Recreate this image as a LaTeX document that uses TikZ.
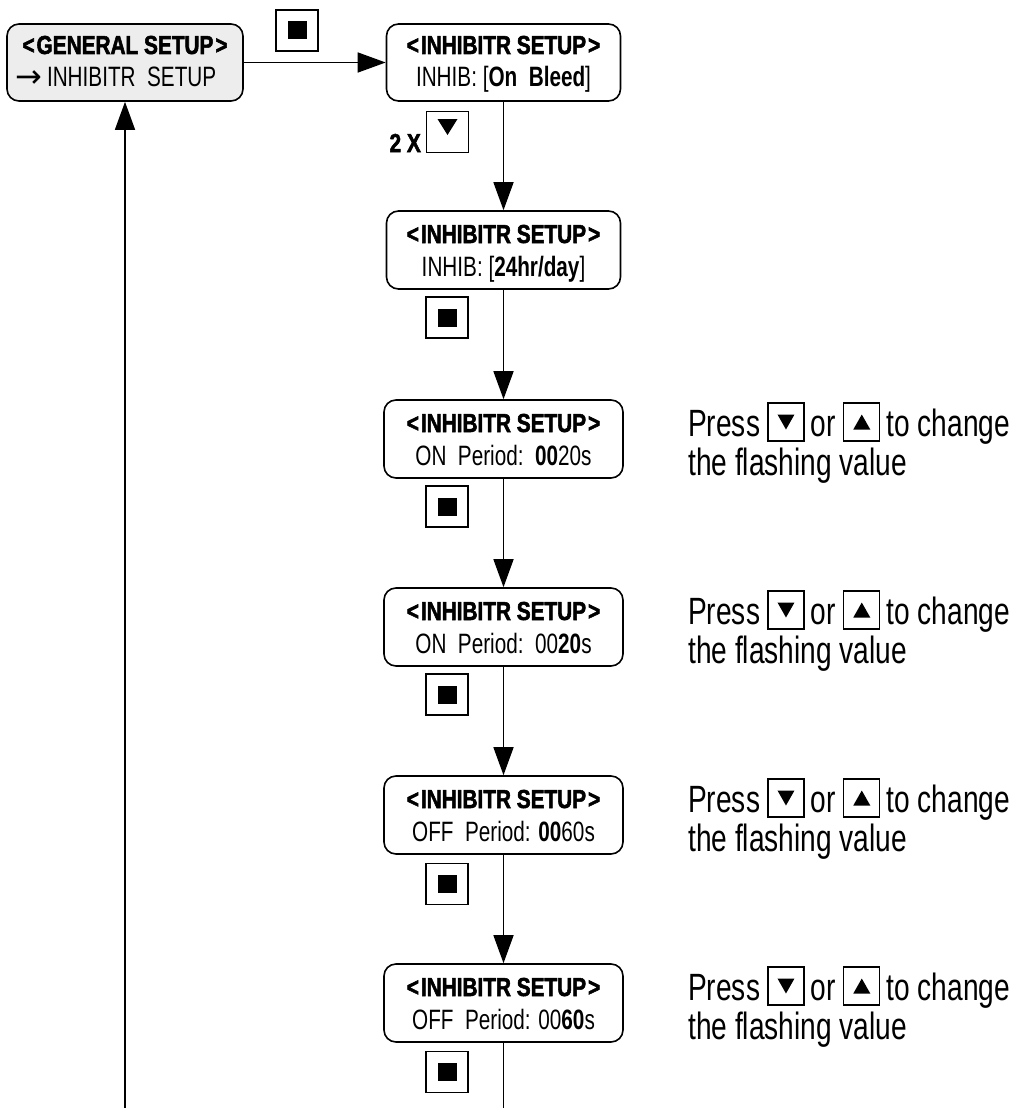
\documentclass[tikz,border=0pt]{standalone}
\usepackage{fontspec}
\setmainfont{Liberation Sans}[FakeStretch=0.74]
\newfontfamily\ttlfont{Liberation Sans Bold}[FakeStretch=0.8, FakeBold=2]
\newfontfamily\dv{DejaVu Sans}
\usetikzlibrary{arrows.meta,calc}

\tikzset{
  lcd/.style={draw, line width=1.6pt, rounded corners=12pt, minimum height=78pt, inner sep=0pt},
  ttl/.style={inner sep=0pt, font=\ttlfont\fontsize{26}{26}\selectfont},
  sub/.style={inner sep=0pt, font=\fontsize{28}{28}\selectfont},
  rt/.style={inner sep=0pt, font=\fontsize{38}{38}\selectfont},
  conn/.style={line width=1.5pt},
  arr/.style={conn, -{Triangle[length=28pt,width=20pt]}},
  keyb/.style={draw, line width=1.5pt, minimum width=42pt, minimum height=41pt, inner sep=0pt},
  stopkey/.style={keyb, path picture={\fill ([xshift=-9.5pt,yshift=-9pt]path picture bounding box.center) rectangle ++(19pt,18pt);}},
  dnkey/.style={keyb, path picture={\fill ([shift={(-10pt,13pt)}]path picture bounding box.center) -- ++(20pt,0pt) -- ++(-10pt,-16pt) -- cycle;}},
  skey/.style={draw, line width=1.4pt, minimum width=36pt, minimum height=38pt, inner sep=0pt},
  sdnkey/.style={skey, path picture={\fill ([shift={(-8.5pt,7.5pt)}]path picture bounding box.center) -- ++(17pt,0pt) -- ++(-8.5pt,-15pt) -- cycle;}},
  supkey/.style={skey, path picture={\fill ([shift={(-8.5pt,-7.5pt)}]path picture bounding box.center) -- ++(17pt,0pt) -- ++(-8.5pt,15pt) -- cycle;}}
}

\newcommand\lt{<\kern2pt}
\newcommand\gt{\kern2pt>}

% #1 name, #2 top, #3 title, #4 second line, #5 width
\newcommand\lcdscreen[5]{%
  \node[lcd, minimum width=#5] (#1) at (503.5,#2+39) {};
  \node[ttl, anchor=base] (#1t) at (503.5,#2+32) {#3};
  \node[sub, anchor=base] (#1s) at (503.5,#2+65) {#4};
}
% #1 suffix, #2 top
\newcommand\pressrow[2]{%
  \node[rt, anchor=base west] (pr#1) at (688,#2+36) {Press};
  \node[sdnkey, anchor=west, xshift=7pt, yshift=14pt] (pd#1) at (pr#1.base east) {};
  \node[rt, anchor=base west, xshift=6pt] (po#1) at (pd#1.east |- pr#1.base) {or};
  \node[supkey, anchor=west, xshift=7pt, yshift=14pt] (pu#1) at (po#1.base east) {};
  \node[rt, anchor=base west, xshift=6pt] (pc#1) at (pu#1.east |- pr#1.base) {to change};
  \node[rt, anchor=base west] (pf#1) at (688,#2+75) {the flashing value};
}

\begin{document}
\begin{tikzpicture}[x=1pt,y=-1pt]
\useasboundingbox (0,0) rectangle (1019,1108);

% general setup box
\node[lcd, fill=black!7, minimum width=236pt, minimum height=77pt] (gen) at (125,62.5) {};
\node[ttl, anchor=base] (gent) at (125,54) {\lt GENERAL SETUP\gt};
\node[sub, anchor=base west] (gens) at (15,86) {{\dv\fontsize{32}{32}\selectfont\raisebox{-1pt}{→}}\kern5pt INHIBITR\ \ SETUP};

% first inhibitor box
\node[lcd, minimum width=234pt, minimum height=77pt] (b1) at (503.5,62.5) {};
\node[ttl, anchor=base] (b1t) at (503.5,54) {\lt INHIBITR SETUP\gt};
\node[sub, anchor=base] (b1s) at (503.5,86) {INHIB: [\textbf{On\ \ Bleed}]};

\node[stopkey] (kt) at (297,30.5) {};

\lcdscreen{b2}{211}{\lt INHIBITR SETUP\gt}{INHIB: [\textbf{24hr/day}]}{234pt}
\lcdscreen{b3}{400}{\lt INHIBITR SETUP\gt}{ON\ \ Period:\ \ \textbf{00}20s}{239pt}
\lcdscreen{b4}{588}{\lt INHIBITR SETUP\gt}{ON\ \ Period:\ \ 00\textbf{20}s}{239pt}
\lcdscreen{b5}{776}{\lt INHIBITR SETUP\gt}{OFF\ \ Period: \textbf{00}60s}{239pt}
\lcdscreen{b6}{964}{\lt INHIBITR SETUP\gt}{OFF\ \ Period: 00\textbf{60}s}{239pt}

% keys
\node[dnkey] (kd) at (447.5,132) {};
\node[ttl, anchor=base east, font=\ttlfont\fontsize{26}{26}\selectfont] (twox) at (421,152) {2 X};
\node[stopkey] (k2) at (447,317.5) {};
\node[stopkey] (k3) at (447,506.5) {};
\node[stopkey] (k4) at (447,694.5) {};
\node[stopkey] (k5) at (447,884) {};
\node[stopkey] (k6) at (447,1072) {};

% side notes
\pressrow{3}{400}
\pressrow{4}{588}
\pressrow{5}{776}
\pressrow{6}{964}

% connectors
\draw[arr] (gen) -- (b1);
\draw[arr] (b1) -- (b2);
\draw[arr] (b2) -- (b3);
\draw[arr] (b3) -- (b4);
\draw[arr] (b4) -- (b5);
\draw[arr] (b5) -- (b6);
\coordinate (endr) at (503.5,1108);
\draw[conn] (b6) -- (endr);
\coordinate (endl) at (125,1108);
\draw[arr] (endl) -- (gen);
\end{tikzpicture}
\end{document}
